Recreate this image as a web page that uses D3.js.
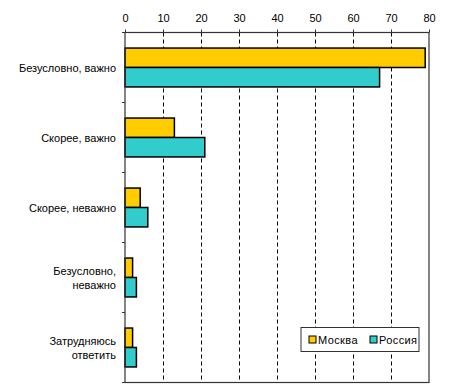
<!DOCTYPE html>
<html>
<head>
<meta charset="utf-8">
<script src="https://cdn.jsdelivr.net/npm/d3@7"></script>
<style>
  body { margin: 0; background: #fff; }
  text { font-family: "Liberation Sans", Arial, sans-serif; font-size: 11px; fill: #000; }
</style>
</head>
<body>
<svg id="chart" width="452" height="387"></svg>
<script>
// Data
const categories = [
  ["Безусловно, важно"],
  ["Скорее, важно"],
  ["Скорее, неважно"],
  ["Безусловно,", "неважно"],
  ["Затрудняюсь", "ответить"]
];
const seriesNames = ["Москва", "Россия"];
const seriesColors = ["#FFCC00", "#33CCCC"];
const moscowValues = [79, 13, 4, 2, 2];
const russiaValues = [67, 21, 6, 3, 3];
const xTicks = [0, 10, 20, 30, 40, 50, 60, 70, 80];

const svg = d3.select("#chart");
const plotLeft = 125, plotRight = 429, plotTop = 32.5, plotBottom = 382.5;

const x = d3.scaleLinear().domain([0, 80]).range([plotLeft, plotRight]);
const y = d3.scaleBand().domain(d3.range(categories.length)).range([plotTop, plotBottom]);
const inner = d3.scaleBand().domain([0, 1]).range([0, y.bandwidth()]).paddingOuter(0.8).paddingInner(0);

// Gridlines (dashed)
svg.append("g")
  .selectAll("line")
  .data(xTicks.filter(d => d > 0 && d < 80))
  .enter().append("line")
  .attr("x1", d => Math.round(x(d)) + 0.5)
  .attr("x2", d => Math.round(x(d)) + 0.5)
  .attr("y1", plotTop)
  .attr("y2", plotBottom)
  .attr("stroke", "#000")
  .attr("stroke-dasharray", "4,3");

// Bars
const rows = categories.map((c, i) => [moscowValues[i], russiaValues[i]]);
const groups = svg.append("g").selectAll("g")
  .data(rows)
  .enter().append("g")
  .attr("transform", (d, i) => `translate(0,${y(i)})`);

groups.selectAll("rect")
  .data(d => d)
  .enter().append("rect")
  .attr("x", x(0))
  .attr("y", (d, j) => inner(j))
  .attr("width", d => x(d) - x(0))
  .attr("height", inner.bandwidth())
  .attr("fill", (d, j) => seriesColors[j])
  .attr("stroke", "#000")
  .attr("stroke-width", 1.5);

// Frame
svg.append("rect")
  .attr("x", plotLeft).attr("y", plotTop)
  .attr("width", plotRight - plotLeft).attr("height", plotBottom - plotTop)
  .attr("fill", "none").attr("stroke", "#333").attr("stroke-width", 1.2);

// Top axis
const xAxis = d3.axisTop(x).tickValues(xTicks).tickSize(3).tickPadding(8);
svg.append("g")
  .attr("transform", `translate(0,${plotTop})`)
  .call(xAxis)
  .call(g => g.select(".domain").remove())
  .call(g => g.selectAll("line").attr("stroke", "#333"))
  .call(g => g.selectAll("text").attr("font-size", 11).attr("font-family", "Liberation Sans, Arial, sans-serif").attr("fill", "#000"));

// Left tick marks at category boundaries
svg.append("g")
  .selectAll("line")
  .data(d3.range(categories.length + 1))
  .enter().append("line")
  .attr("x1", plotLeft - 3).attr("x2", plotLeft)
  .attr("y1", i => i < categories.length ? y(i) : plotBottom)
  .attr("y2", i => i < categories.length ? y(i) : plotBottom)
  .attr("stroke", "#333");

// Category labels
const labels = svg.append("g").selectAll("text")
  .data(categories)
  .enter().append("text")
  .attr("text-anchor", "end")
  .attr("x", 116)
  .attr("y", (d, i) => y(i) + y.bandwidth() / 2 - (d.length - 1) * 7 + 4);

labels.selectAll("tspan")
  .data(d => d)
  .enter().append("tspan")
  .attr("x", 116)
  .attr("dy", (d, k) => k === 0 ? 0 : 14)
  .text(d => d);

// Legend
const legend = svg.append("g").attr("transform", "translate(301,327.5)");
legend.append("rect")
  .attr("width", 118).attr("height", 24)
  .attr("fill", "#fff").attr("stroke", "#333");
const legendX = [8, 69];
seriesNames.forEach((name, i) => {
  legend.append("rect")
    .attr("x", legendX[i]).attr("y", 8.5)
    .attr("width", 7).attr("height", 7)
    .attr("fill", seriesColors[i]).attr("stroke", "#000");
  legend.append("text")
    .attr("x", legendX[i] + 9).attr("y", 16)
    .attr("letter-spacing", 0.4)
    .text(name);
});
</script>
</body>
</html>
